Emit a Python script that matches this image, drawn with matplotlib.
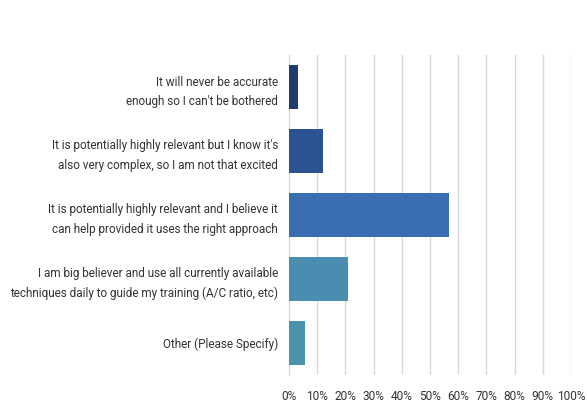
import matplotlib
matplotlib.use("Agg")
import matplotlib.pyplot as plt
import numpy as np

plt.rcParams['font.family'] = ['Roboto', 'DejaVu Sans']

labels = [
    "It will never be accurate\nenough so I can't be bothered",
    "It is potentially highly relevant but I know it's\nalso very complex, so I am not that excited",
    "It is potentially highly relevant and I believe it\ncan help provided it uses the right approach",
    "I am big believer and use all currently available\ntechniques daily to guide my training (A/C ratio, etc)",
    "Other (Please Specify)",
]
shares = [3.3, 12.2, 56.8, 21.0, 5.7]
colors = ['#1f3b70', '#2b5391', '#3a6eb2', '#4a8db0', '#4b93ad']

fig = plt.figure(figsize=(5.87, 4.03), dpi=100)
ax = fig.add_axes([289 / 587, 28 / 403, 282 / 587, 320 / 403])

y = np.arange(len(labels))
ax.barh(y, shares, height=0.68, color=colors, zorder=3)

ax.set_xlim(0, 100)
ax.set_ylim(len(labels) - 0.5, -0.5)
ax.set_xticks(np.arange(0, 101, 10))
ax.set_xticklabels([f"{v}%" for v in range(0, 101, 10)], fontsize=8.6, color='#333333')
ax.set_yticks(y)
ax.set_yticklabels(labels, fontsize=8.5, color='#333333', linespacing=1.6)
ax.tick_params(axis='both', length=0)
ax.tick_params(axis='x', pad=11)
ax.tick_params(axis='y', pad=8)

ax.grid(axis='x', color='#d9d9d9', linewidth=1, zorder=0)
for side in ['top', 'right', 'bottom']:
    ax.spines[side].set_visible(False)
ax.spines['left'].set_color('#d9d9d9')

fig.savefig("out.png", dpi=100)
